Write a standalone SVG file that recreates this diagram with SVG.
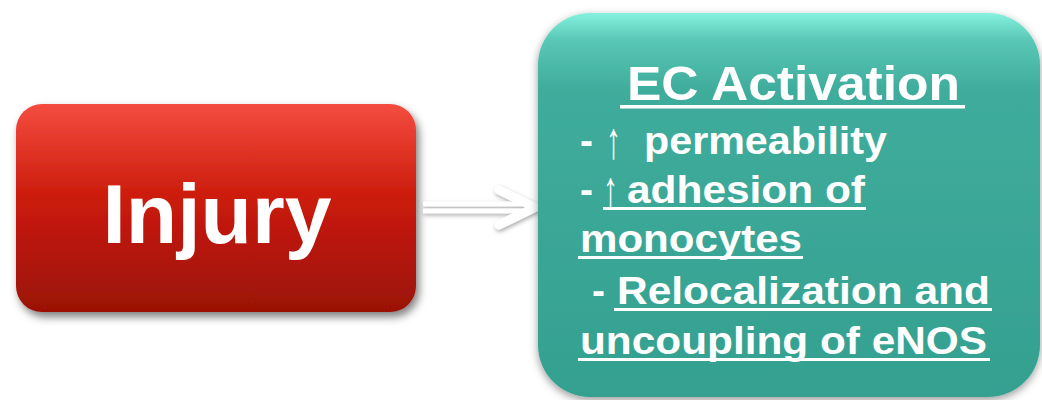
<svg xmlns="http://www.w3.org/2000/svg" width="1042" height="400" viewBox="0 0 1042 400">
<style>
.t{font-family:"Liberation Sans",Arial,sans-serif;font-weight:bold;fill:#fff}
.ar{font-family:"Liberation Sans",Arial,sans-serif;font-weight:normal;fill:#fff;font-size:52px}
.ul{fill:#fff}
</style>
<defs>
<linearGradient id="red" x1="0" y1="0" x2="0" y2="1">
<stop offset="0" stop-color="#f44c40"/>
<stop offset="0.45" stop-color="#cb1b0b"/>
<stop offset="1" stop-color="#9a1106"/>
</linearGradient>
<linearGradient id="green" x1="0" y1="0" x2="0" y2="1">
<stop offset="0" stop-color="#84f2de"/>
<stop offset="0.07" stop-color="#5ac8b6"/>
<stop offset="0.2" stop-color="#3fac9c"/>
<stop offset="1" stop-color="#34a090"/>
</linearGradient>
<filter id="sh" x="-10%" y="-10%" width="120%" height="130%">
<feDropShadow dx="3" dy="5" stdDeviation="4" flood-color="#000" flood-opacity="0.5"/>
</filter>
<filter id="sh2" x="-10%" y="-10%" width="120%" height="120%">
<feDropShadow dx="0" dy="3" stdDeviation="4" flood-color="#000" flood-opacity="0.4"/>
</filter>
<filter id="ash" x="-20%" y="-50%" width="140%" height="200%">
<feDropShadow dx="1" dy="2" stdDeviation="2" flood-color="#000" flood-opacity="0.35"/>
</filter>
</defs>
<g id="injury">
<rect x="16" y="104" width="400" height="208" rx="26" fill="url(#red)" filter="url(#sh)"/>
<text class="t" x="217" y="243" font-size="83" text-anchor="middle" textLength="229" lengthAdjust="spacingAndGlyphs">Injury</text>
</g>
<g id="connectors" filter="url(#ash)">
<line x1="423" y1="204" x2="522" y2="204" stroke="#fff" stroke-width="4.5"/>
<line x1="423" y1="211" x2="522" y2="211" stroke="#fff" stroke-width="4.5"/>
<polyline points="499,190 535,207.5 499,225" fill="none" stroke="#fff" stroke-width="9" stroke-linecap="round" stroke-linejoin="round"/>
</g>
<g id="ec-activation">
<rect x="538" y="13" width="502" height="384" rx="52" fill="url(#green)" filter="url(#sh2)"/>
<text class="t" x="627" y="100" font-size="49" textLength="333" lengthAdjust="spacingAndGlyphs">EC Activation</text>
<rect class="ul" x="620" y="105" width="345" height="3.5"/>
<text class="t" font-size="39" y="154"><tspan x="580">-</tspan><tspan class="ar" x="606" dy="4" textLength="15" lengthAdjust="spacingAndGlyphs">↑</tspan><tspan x="644" dy="-4" textLength="243" lengthAdjust="spacingAndGlyphs">permeability</tspan></text>
<text class="t" font-size="39" y="203"><tspan x="580">-</tspan><tspan class="ar" x="603" dy="4" textLength="15" lengthAdjust="spacingAndGlyphs">↑</tspan><tspan x="627" dy="-4" textLength="238" lengthAdjust="spacingAndGlyphs">adhesion of</tspan></text>
<rect class="ul" x="603" y="207" width="263" height="3"/>
<text class="t" font-size="39" y="252" x="580" textLength="222" lengthAdjust="spacingAndGlyphs">monocytes</text>
<rect class="ul" x="578" y="256" width="225" height="3"/>
<text class="t" font-size="39" y="304"><tspan x="592">-</tspan><tspan x="617" textLength="373" lengthAdjust="spacingAndGlyphs">Relocalization and</tspan></text>
<rect class="ul" x="614" y="308" width="378" height="3"/>
<text class="t" font-size="39" y="354" x="580" textLength="407" lengthAdjust="spacingAndGlyphs">uncoupling of eNOS</text>
<rect class="ul" x="578" y="358" width="412" height="3"/>
</g>
</svg>
